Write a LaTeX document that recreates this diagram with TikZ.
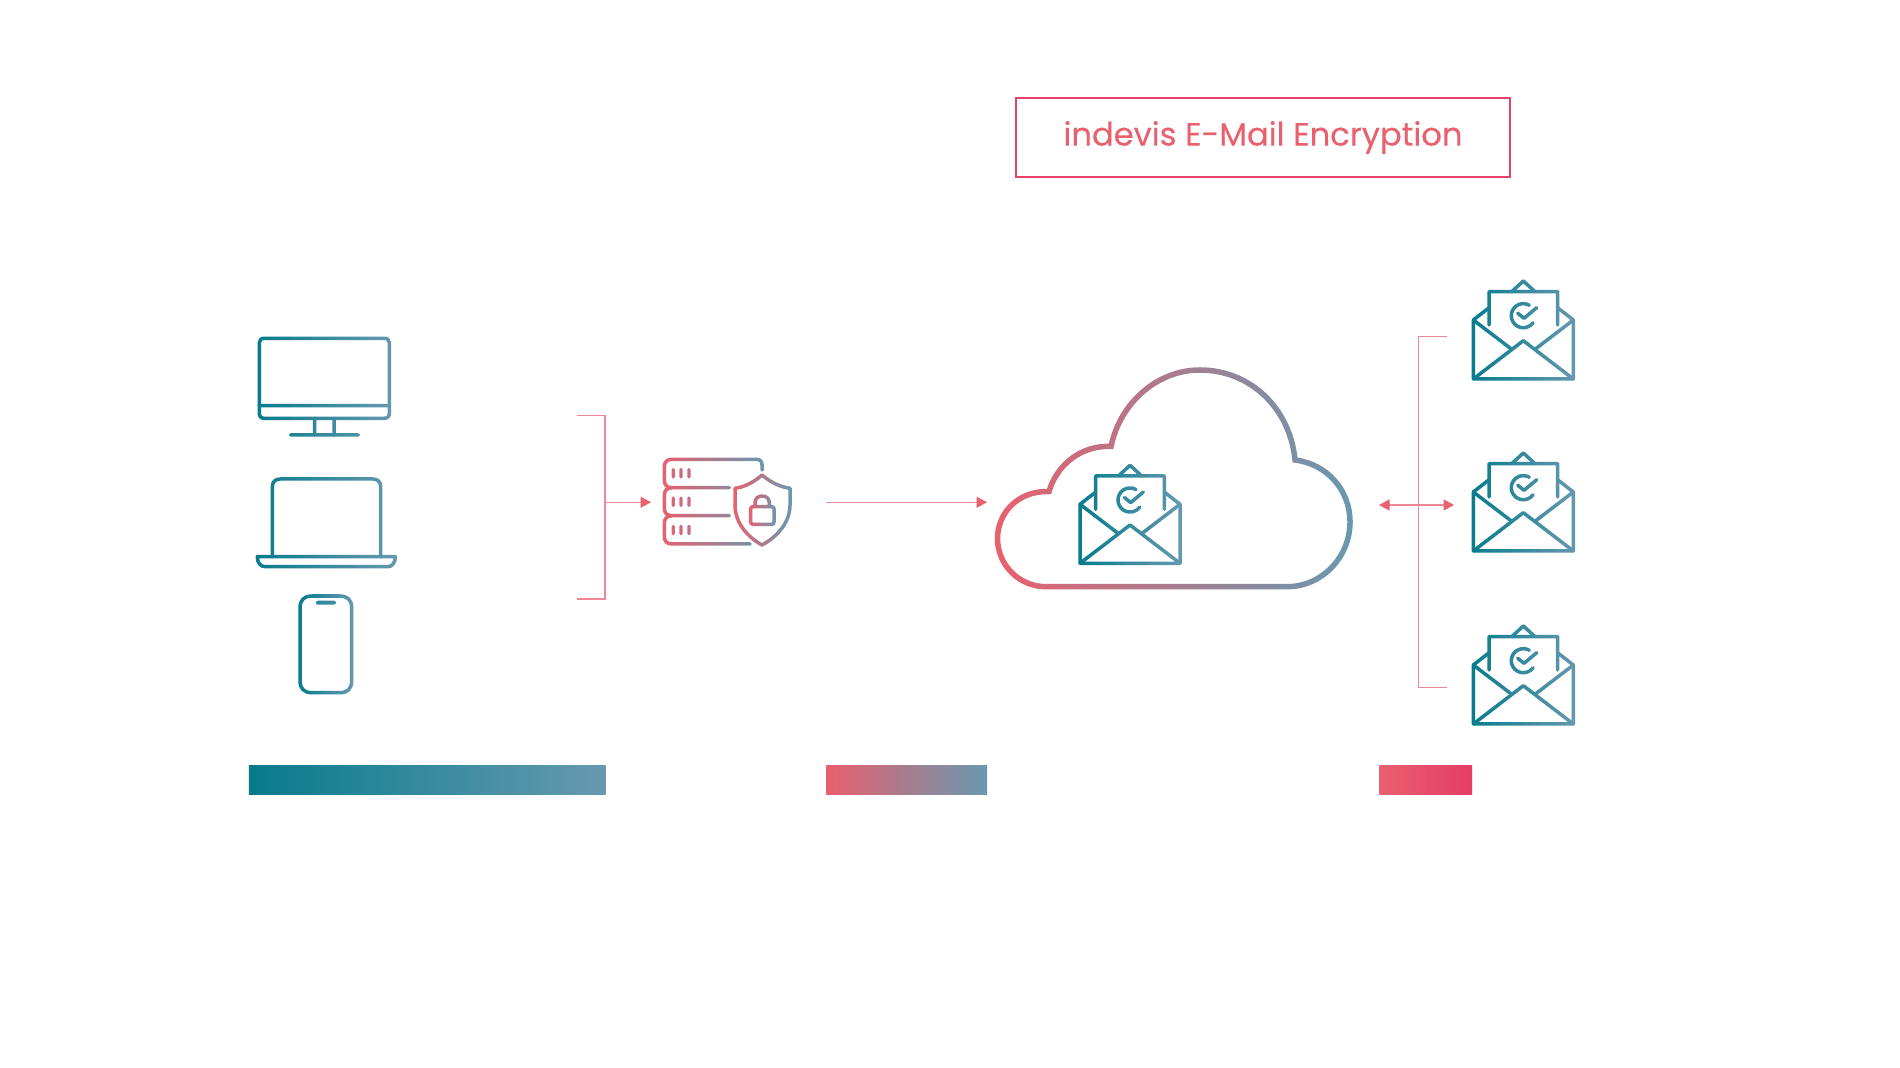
\documentclass[tikz,border=0pt]{standalone}
\usepackage{fontspec}
\setmainfont{Poppins}[FakeBold=0.25]
\usetikzlibrary{arrows.meta,calc,fadings}
\definecolor{tealDark}{HTML}{067B8D}
\definecolor{steelBlue}{HTML}{6799B0}
\definecolor{coralRed}{HTML}{E9606E}
\definecolor{roseRed}{HTML}{E63C66}
\definecolor{linkPink}{HTML}{F18795}
\tikzset{
	iconline/.style={transparent!0, line width=0.035cm, line cap=round, line join=round},
	linkline/.style={linkPink, line width=0.013cm},
	linkarrow/.style={linkline, -{Triangle[length=0.105cm, width=0.11cm, color=coralRed]}},
	titlebox/.style={draw=roseRed!85!coralRed, line width=0.02cm, text=coralRed, minimum width=4.94cm, minimum height=0.79cm, inner sep=0pt}
}
\def\fadeicon[#1](#2)(#3)(#4:#5){\shade[left color=#4, right color=#5, path fading=#1, fit fading=false, fading transform={shift={($(#2)!0.5!(#3)$)}}] (#2) rectangle (#3);}

\begin{tikzfadingfrompicture}[name=fadeMonitor, x=0.01cm, y=-0.01cm]
	\useasboundingbox (256,335) rectangle (393,440);
	\draw[iconline] (259.3,343) .. controls (259.3,340) and (261,338.3) .. (264.3,338.3) -- (384.3,338.3) .. controls (387.5,338.3) and (389.3,340) .. (389.3,343) -- (389.3,413.3) .. controls (389.3,416.5) and (387.5,418.3) .. (384.3,418.3) -- (264.3,418.3) .. controls (261,418.3) and (259.3,416.5) .. (259.3,413.3) -- cycle;
	\draw[iconline] (259.3,405.7) -- (389.3,405.7);
	\draw[iconline] (314.7,418.3) -- (314.7,435);
	\draw[iconline] (334,418.3) -- (334,435);
	\draw[iconline] (290.7,435) -- (358.3,435);
\end{tikzfadingfrompicture}

\begin{tikzfadingfrompicture}[name=fadeLaptop, x=0.01cm, y=-0.01cm]
	\useasboundingbox (254,475) rectangle (399,570);
	\draw[iconline] (272.3,556.7) -- (272.3,487) .. controls (272.3,482) and (275,479) .. (280.3,479) -- (372.7,479) .. controls (378,479) and (380.7,482) .. (380.7,487) -- (380.7,556.7);
	\draw[iconline] (257.3,556.7) -- (395.3,556.7) .. controls (395.3,563) and (392,566.7) .. (387.3,566.7) -- (265.3,566.7) .. controls (260.6,566.7) and (257.3,563) .. (257.3,556.7) -- cycle;
\end{tikzfadingfrompicture}

\begin{tikzfadingfrompicture}[name=fadePhone, x=0.01cm, y=-0.01cm]
	\useasboundingbox (297,593) rectangle (355,696);
	\draw[iconline] (300,608) .. controls (300,600) and (304,596) .. (312,596) -- (339.7,596) .. controls (347.7,596) and (351.7,600) .. (351.7,608) -- (351.7,680.7) .. controls (351.7,688.7) and (347.7,692.7) .. (339.7,692.7) -- (312,692.7) .. controls (304,692.7) and (300,688.7) .. (300,680.7) -- cycle;
	\draw[iconline, line width=0.04cm] (318,602.7) -- (334,602.7);
\end{tikzfadingfrompicture}

\begin{tikzfadingfrompicture}[name=fadeServer, x=0.01cm, y=-0.01cm]
	\useasboundingbox (661,456) rectangle (766,548);
	\draw[iconline] (762,470) -- (762,465) .. controls (762,461) and (760,459.3) .. (756,459.3) -- (672,459.3) .. controls (667,459.3) and (664.3,462) .. (664.3,467) -- (664.3,480) .. controls (664.3,485) and (667,487.7) .. (672,487.7) -- (729.3,487.7);
	\draw[iconline] (672,487.7) .. controls (667,487.7) and (664.3,490.5) .. (664.3,495.5) -- (664.3,508) .. controls (664.3,513) and (667,515.7) .. (672,515.7) -- (729.3,515.7);
	\draw[iconline] (672,515.7) .. controls (667,515.7) and (664.3,518.5) .. (664.3,523.5) -- (664.3,536.3) .. controls (664.3,541.3) and (667,544) .. (672,544) -- (750,544);
	\draw[iconline, line width=0.032cm] (673.3,469.5) -- (673.3,477);
	\draw[iconline, line width=0.032cm] (681,469.5) -- (681,477);
	\draw[iconline, line width=0.032cm] (689,469.5) -- (689,477);
	\draw[iconline, line width=0.032cm] (673.3,498) -- (673.3,505.5);
	\draw[iconline, line width=0.032cm] (681,498) -- (681,505.5);
	\draw[iconline, line width=0.032cm] (689,498) -- (689,505.5);
	\draw[iconline, line width=0.032cm] (673.3,526.3) -- (673.3,533.8);
	\draw[iconline, line width=0.032cm] (681,526.3) -- (681,533.8);
	\draw[iconline, line width=0.032cm] (689,526.3) -- (689,533.8);
\end{tikzfadingfrompicture}

\begin{tikzfadingfrompicture}[name=fadeShield, x=0.01cm, y=-0.01cm]
	\useasboundingbox (732,472) rectangle (793,548);
	\draw[iconline] (762,475) .. controls (754,482) and (745,487) .. (735,488.3) -- (735,505) .. controls (735,524) and (749,538) .. (762,545) .. controls (775,538) and (790,524) .. (790,505) -- (790,488.3) .. controls (780,487) and (770,482) .. (762,475) -- cycle;
\end{tikzfadingfrompicture}

\begin{tikzfadingfrompicture}[name=fadeLock, x=0.01cm, y=-0.01cm]
	\useasboundingbox (748,493) rectangle (777,527);
	\draw[iconline] (753,506.7) -- (771.7,506.7) .. controls (773.2,506.7) and (774,507.5) .. (774,509) -- (774,522) .. controls (774,523.5) and (773.2,524.3) .. (771.7,524.3) -- (753,524.3) .. controls (751.5,524.3) and (750.7,523.5) .. (750.7,522) -- (750.7,509) .. controls (750.7,507.5) and (751.5,506.7) .. (753,506.7) -- cycle;
	\draw[iconline] (755,506.7) -- (755,503) .. controls (755,498.5) and (758,496) .. (762.2,496) .. controls (766.4,496) and (769.3,498.5) .. (769.3,503) -- (769.3,506.7);
\end{tikzfadingfrompicture}

\begin{tikzfadingfrompicture}[name=fadeCloud, x=0.01cm, y=-0.01cm]
	\useasboundingbox (993,366) rectangle (1354,591);
	\draw[transparent!0, line width=0.055cm, miter limit=4] (1046,586.7) .. controls (1019,586.7) and (997.5,565) .. (997.5,538.5) .. controls (997.5,513) and (1018,490.5) .. (1049,491.5) .. controls (1057,464) and (1082,445) .. (1111,446.5) .. controls (1120,403) and (1157,370) .. (1200,370) .. controls (1250,370) and (1290,408) .. (1295,460) .. controls (1327,464) and (1350,490) .. (1350,522) .. controls (1350,557) and (1322,586.7) .. (1287,586.7) -- cycle;
\end{tikzfadingfrompicture}

\begin{tikzfadingfrompicture}[name=fadeEnvelope, x=0.01cm, y=-0.01cm]
	\useasboundingbox (1470,278) rectangle (1577,383);
	% body and flaps
	\draw[iconline] (1473.3,320) -- (1473.3,379) -- (1573.3,379) -- (1573.3,320);
	\draw[iconline] (1473.3,379) -- (1523.3,340.7) -- (1573.3,379);
	\draw[iconline] (1473.3,320) -- (1511.7,349.3);
	\draw[iconline] (1573.3,320) -- (1535,349.3);
	\draw[iconline] (1473.3,320) -- (1488.3,308.3);
	\draw[iconline] (1573.3,320) -- (1558.3,308.3);
	% letter
	\draw[iconline] (1489,325) -- (1489,291.7) -- (1557.7,291.7) -- (1557.7,325);
	\draw[iconline] (1511.7,291.7) -- (1523.3,281) -- (1535,291.7);
	\draw[iconline] plot[domain=-60:-324, samples=30] ({1523.3+12*cos(\x)},{315.7+12*sin(\x)});
	\draw[iconline] (1517.7,313.3) -- (1524,318.3) -- (1536.7,307.7);
\end{tikzfadingfrompicture}

\begin{document}
\begin{tikzpicture}[x=0.01cm, y=-0.01cm]
	\useasboundingbox (0,0) rectangle (1900,1068);
	\fill[white] (0,0) rectangle (1900,1068);

	\node[titlebox] (title) at (1263,137.5) {\raisebox{-0.4pt}{\fontsize{9.15}{11}\selectfont indevis E-Mail Encryption}};

	% client devices
	\fadeicon[fadeMonitor](256,335)(393,440)(tealDark:steelBlue)
	\fadeicon[fadeLaptop](254,475)(399,570)(tealDark:steelBlue)
	\fadeicon[fadePhone](297,593)(355,696)(tealDark:steelBlue)

	% mail server
	\fadeicon[fadeServer](661,456)(766,548)(coralRed:steelBlue)
	\fadeicon[fadeShield](732,472)(793,548)(coralRed:steelBlue)
	\fadeicon[fadeLock](748,493)(777,527)(coralRed:steelBlue)

	% cloud
	\fadeicon[fadeCloud](993,366)(1354,591)(coralRed:steelBlue)
	\fadeicon[fadeEnvelope](1076.7,462.3)(1183.7,567.3)(tealDark:steelBlue)

	% recipients
	\fadeicon[fadeEnvelope](1470,278)(1577,383)(tealDark:steelBlue)
	\fadeicon[fadeEnvelope](1470,450)(1577,555)(tealDark:steelBlue)
	\fadeicon[fadeEnvelope](1470,623)(1577,728)(tealDark:steelBlue)

	% connectors
	\coordinate (devTop) at (577,415.5);
	\coordinate (devCorner) at (605,415.5);
	\coordinate (devMid) at (605,502.3);
	\coordinate (devBend) at (605,599);
	\coordinate (devBottom) at (577,599);
	\coordinate (serverIn) at (651,502.3);
	\coordinate (serverOut) at (826,502.3);
	\coordinate (cloudIn) at (987,502.3);
	\coordinate (cloudOut) at (1379,505);
	\coordinate (mailIn) at (1454,505);
	\coordinate (mailTop) at (1447,336.3);
	\coordinate (mailCorner) at (1418.7,336.3);
	\coordinate (mailBend) at (1418.7,687.7);
	\coordinate (mailBottom) at (1447,687.7);

	\draw[linkline] (devTop) -- (devCorner) -- (devBend) -- (devBottom);
	\draw[linkarrow] (devMid) -- (serverIn);
	\draw[linkarrow] (serverOut) -- (cloudIn);
	\draw[linkline] (mailTop) -- (mailCorner) -- (mailBend) -- (mailBottom);
	\draw[linkline, {Triangle[length=0.105cm, width=0.11cm, color=coralRed]}-{Triangle[length=0.105cm, width=0.11cm, color=coralRed]}] (cloudOut) -- (mailIn);

	% bars
	\shade[left color=tealDark, right color=steelBlue] (248.8,765.5) rectangle (605.5,795);
	\shade[left color=coralRed, right color=steelBlue] (826,765.5) rectangle (987,795);
	\shade[left color=coralRed, right color=roseRed] (1379.3,765.5) rectangle (1472,795);
\end{tikzpicture}
\end{document}
